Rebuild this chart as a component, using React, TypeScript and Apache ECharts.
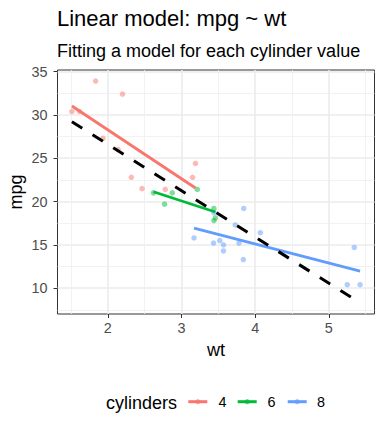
import React, { useEffect, useRef } from "react";
import * as echarts from "echarts";

const titleText = "Linear model: mpg ~ wt";
const subtitleText = "Fitting a model for each cylinder value";
const xTitle = "wt";
const yTitle = "mpg";
const legendTitle = "cylinders";

const cylinders = ["4", "6", "8"];
const groupColors = ["#F8766D", "#00BA38", "#619CFF"];

const wt4 = [2.32, 3.19, 3.15, 2.2, 1.615, 1.835, 2.465, 1.935, 2.14, 1.513, 2.78];
const mpg4 = [22.8, 24.4, 22.8, 32.4, 30.4, 33.9, 21.5, 27.3, 26.0, 30.4, 21.4];
const wt6 = [2.62, 2.875, 3.215, 3.46, 3.44, 3.44, 2.77];
const mpg6 = [21.0, 21.0, 21.4, 18.1, 19.2, 17.8, 19.7];
const wt8 = [3.44, 3.57, 4.07, 3.73, 3.78, 5.25, 5.424, 5.345, 3.52, 3.435, 3.84, 3.845, 3.17, 3.57];
const mpg8 = [18.7, 14.3, 16.4, 17.3, 15.2, 10.4, 10.4, 14.7, 15.5, 15.2, 13.3, 19.2, 15.8, 15.0];

// fitted line endpoints (wt, mpg)
const fitWt4 = [1.513, 3.19];
const fitMpg4 = [31.03, 21.56];
const fitWt6 = [2.62, 3.46];
const fitMpg6 = [21.13, 18.79];
const fitWt8 = [3.17, 5.424];
const fitMpg8 = [16.92, 11.98];
const fitWtAll = [1.513, 5.424];
const fitMpgAll = [29.2, 8.3];

const xTicks = [2, 3, 4, 5];
const xMinorTicks = [1.5, 2.5, 3.5, 4.5, 5.5];
const yTicks = [10, 15, 20, 25, 30, 35];
const yMinorTicks = [7.5, 12.5, 17.5, 22.5, 27.5, 32.5];

const FONT = "'Liberation Sans', Arial, Helvetica, sans-serif";

const zip = (a: number[], b: number[]) => a.map((v, i) => [v, b[i]]);

export default function App() {
  const ref = useRef<HTMLDivElement>(null);
  useEffect(() => {
    if (!ref.current) return;
    const chart = echarts.init(ref.current, null, { renderer: "svg" });
    const groups = [
      { wt: wt4, mpg: mpg4, fw: fitWt4, fm: fitMpg4 },
      { wt: wt6, mpg: mpg6, fw: fitWt6, fm: fitMpg6 },
      { wt: wt8, mpg: mpg8, fw: fitWt8, fm: fitMpg8 },
    ];
    const xMin = 1.3175, xMax = 5.6195, yMin = 7.02, yMax = 35.18;

    const scatterSeries = groups.map((g, i) => ({
      type: "scatter",
      name: cylinders[i],
      data: zip(g.wt, g.mpg),
      symbolSize: 5.5,
      itemStyle: { color: groupColors[i], opacity: 0.5 },
      silent: true,
      z: 2,
    }));
    const fitSeries = groups.map((g, i) => ({
      type: "line",
      name: cylinders[i] + " fit",
      data: zip(g.fw, g.fm),
      symbol: "none",
      lineStyle: { color: groupColors[i], width: 2.8 },
      silent: true,
      z: 3,
    }));
    const allSeries = {
      type: "line",
      name: "all",
      data: zip(fitWtAll, fitMpgAll),
      symbol: "none",
      lineStyle: { color: "#000000", width: 3, type: [12.2, 12.2], cap: "butt" },
      silent: true,
      z: 4,
    };

    const keyY = 401.7;
    const keyX = [188.3, 237.7, 287.7];
    const labelX = [218.4, 267.4, 317];
    const legendGraphics: any[] = [
      {
        type: "text",
        x: 106,
        y: 403.4,
        style: { text: legendTitle, fontSize: 18, fontFamily: FONT, fill: "#000", align: "left", verticalAlign: "middle" },
      },
    ];
    cylinders.forEach((c, i) => {
      legendGraphics.push({
        type: "line",
        shape: { x1: keyX[i], y1: keyY, x2: keyX[i] + 19, y2: keyY },
        style: { stroke: groupColors[i], lineWidth: 3 },
      });
      legendGraphics.push({
        type: "circle",
        shape: { cx: keyX[i] + 9.5, cy: keyY, r: 2.6 },
        style: { fill: groupColors[i], opacity: 0.6 },
      });
      legendGraphics.push({
        type: "text",
        x: labelX[i],
        y: 402.3,
        style: { text: c, fontSize: 14.4, fontFamily: FONT, fill: "#000", align: "left", verticalAlign: "middle" },
      });
    });

    chart.setOption({
      animation: false,
      backgroundColor: "#ffffff",
      grid: {
        left: 57.5,
        right: 9.5,
        top: 70,
        bottom: 118,
        show: true,
        borderColor: "#333333",
        borderWidth: 1,
        backgroundColor: "#ffffff",
        containLabel: false,
      },
      xAxis: [
        {
          type: "value",
          min: xMin,
          max: xMax,
          axisLine: { show: false },
          axisTick: { show: true, length: 4, lineStyle: { color: "#333333", width: 1 }, customValues: xTicks },
          axisLabel: { customValues: xTicks, margin: 7, color: "#4D4D4D", fontSize: 14.4, fontFamily: FONT },
          splitLine: { show: true, lineStyle: { color: "#EBEBEB", width: 1.6 } },
        },
        {
          type: "value",
          min: xMin,
          max: xMax,
          position: "bottom",
          axisLine: { show: false },
          axisTick: { show: false, customValues: xMinorTicks },
          axisLabel: { show: false, customValues: xMinorTicks },
          splitLine: { show: true, lineStyle: { color: "#EFEFEF", width: 0.8 } },
        },
      ],
      yAxis: [
        {
          type: "value",
          min: yMin,
          max: yMax,
          axisLine: { show: false },
          axisTick: { show: true, length: 4, lineStyle: { color: "#333333", width: 1 }, customValues: yTicks },
          axisLabel: { customValues: yTicks, margin: 10, color: "#4D4D4D", fontSize: 14.4, fontFamily: FONT },
          splitLine: { show: true, lineStyle: { color: "#EBEBEB", width: 1.6 } },
        },
        {
          type: "value",
          min: yMin,
          max: yMax,
          position: "left",
          axisLine: { show: false },
          axisTick: { show: false, customValues: yMinorTicks },
          axisLabel: { show: false, customValues: yMinorTicks },
          splitLine: { show: true, lineStyle: { color: "#EFEFEF", width: 0.8 } },
        },
      ],
      series: [...scatterSeries, ...fitSeries, allSeries],
      graphic: [
        {
          type: "text",
          x: 57,
          y: 18.7,
          style: { text: titleText, fontSize: 22, fontFamily: FONT, fill: "#000", align: "left", verticalAlign: "middle" },
        },
        {
          type: "text",
          x: 57,
          y: 50.5,
          style: { text: subtitleText, fontSize: 18, fontFamily: FONT, fill: "#000", align: "left", verticalAlign: "middle" },
        },
        {
          type: "text",
          x: 215.9,
          y: 350.4,
          style: { text: xTitle, fontSize: 18, fontFamily: FONT, fill: "#000", align: "center", verticalAlign: "middle" },
        },
        {
          type: "text",
          x: 15.5,
          y: 192,
          rotation: Math.PI / 2,
          style: { text: yTitle, fontSize: 18, fontFamily: FONT, fill: "#000", align: "center", verticalAlign: "middle" },
        },
        ...legendGraphics,
      ],
    });
    return () => chart.dispose();
  }, []);
  return (
    <div
      ref={ref}
      style={{ position: "fixed", left: 0, top: 0, width: 384, height: 432, background: "#fff" }}
    />
  );
}
